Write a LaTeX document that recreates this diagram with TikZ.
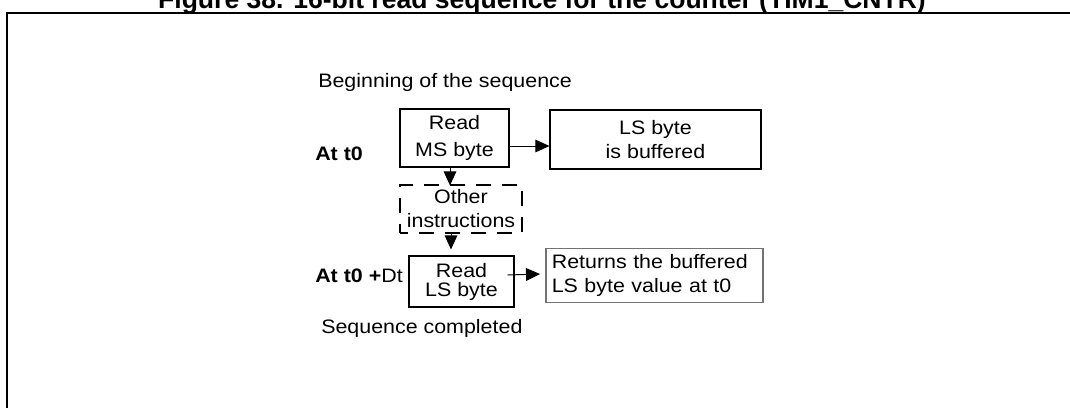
\documentclass[tikz,border=0pt]{standalone}
\usepackage{fontspec}
\setmainfont{Liberation Sans}[FakeStretch=1.1]
\newfontfamily\titlefont{Liberation Sans}
\usetikzlibrary{arrows.meta}

\begin{document}
\begin{tikzpicture}[
  x=0.75pt, y=-0.75pt,
  font=\fontsize{14.6}{18}\selectfont,
  sz/.style 2 args={minimum width=#1*0.75pt, minimum height=#2*0.75pt},
  box/.style={draw, line width=0.9pt, inner sep=0pt, align=center},
  dashbox/.style={box, dash pattern=on 11.25pt off 8.25pt, dash phase=5.6pt},
  retbox/.style={draw=black!55, line width=1.2pt, inner xsep=4.5pt, inner ysep=0pt,
                 text width=154pt, align=left},
  lbl/.style={anchor=base west, inner sep=0pt},
  arr/.style={-{Triangle[length=10.5pt, width=9.5pt]}, line width=0.75pt},
]
  \useasboundingbox (0,0) rectangle (1070,407);
  % frame of the page, cut at the edges
  \draw[line width=1.5pt] (7,420) -- (7,13) -- (1080,13);
  \node[anchor=base, inner sep=0pt, font=\titlefont\bfseries\fontsize{19.9}{24}\selectfont]
    (title) at (542,8) {Figure 38. 16-bit read sequence for the counter (TIM1\_CNTR)};

  \node[lbl] (begin) at (318,87) {Beginning of the sequence};
  \node[lbl, font=\fontsize{14.6}{18}\selectfont\bfseries] (att0) at (315,160) {At t0};
  \node[lbl] (att0dt) at (315,282) {\textbf{At t0 +}Dt};
  \node[lbl] (seqdone) at (321,333) {Sequence completed};

  % boxes
  \node[box, sz={109}{58}]      (msread)  at (454.5,138)   {Read\\[2.25pt]MS byte};
  \node[box, sz={211}{59}]      (lsbuf)   at (655.5,139.5) {LS byte\\is buffered};
  \node[dashbox, sz={122}{48}]  (other)   at (461,209)     {Other\\instructions};
  \node[box, sz={105}{51}]      (lsread)  at (461.5,281.5) {Read\\[-3.75pt]LS byte};
  \node[retbox, sz={217}{54}]   (returns) at (654.5,275.5) {Returns the buffered\\LS byte value at t0};

  % arrows
  \draw[arr] ([shift={(-2,8)}]msread.east) -- ([shift={(0,6.5)}]lsbuf.west);
  \draw[arr] ([shift={(-4.5,0)}]msread.south) -- ([shift={(-11,1)}]other.north);
  \draw[arr] ([shift={(-10,0)}]other.south) -- ([shift={(-10.5,-6)}]lsread.north);
  \draw[arr] ([shift={(-7,-6.5)}]lsread.east) -- ([shift={(-5,-1.5)}]returns.west);
\end{tikzpicture}
\end{document}
